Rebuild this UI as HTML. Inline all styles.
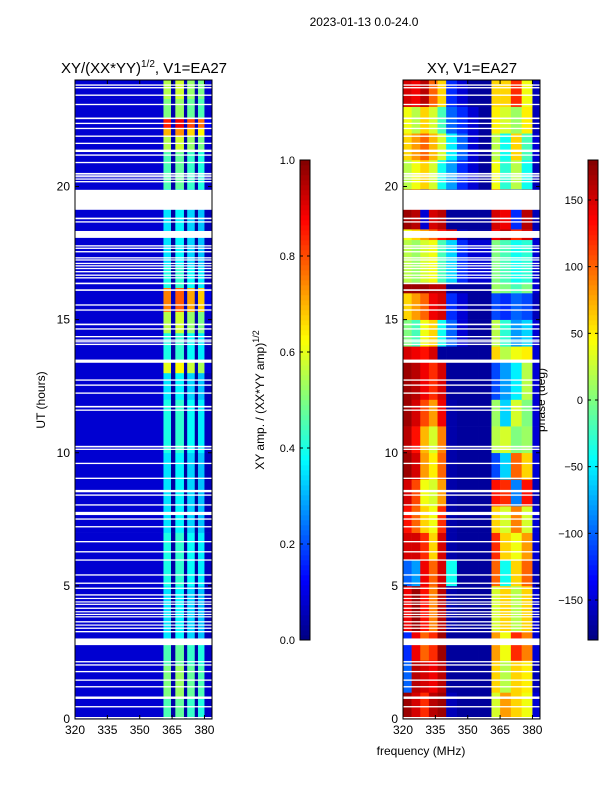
<!DOCTYPE html>
<html><head><meta charset="utf-8"><style>
body{margin:0;background:#fff;}
svg{display:block;font-family:"Liberation Sans","DejaVu Sans",sans-serif;}
</style></head><body>
<svg id="fig" width="600" height="800" viewBox="0 0 600 800">
<text x="364" y="26" font-size="12" text-anchor="middle">2023-01-13 0.0-24.0</text>
<text x="144" y="73" font-size="15" text-anchor="middle">XY/(XX*YY)<tspan font-size="10" dy="-6">1/2</tspan><tspan dy="6">, V1=EA27</tspan></text>
<text x="472" y="73" font-size="15" text-anchor="middle">XY, V1=EA27</text>
<text x="45" y="400" font-size="12" text-anchor="middle" transform="rotate(-90 45 400)">UT (hours)</text>
<text x="421" y="755" font-size="12" text-anchor="middle">frequency (MHz)</text>
<text x="264" y="400" font-size="12" text-anchor="middle" transform="rotate(-90 264 400)">XY amp. / (XX*YY amp)<tspan font-size="9" dy="-5">1/2</tspan></text>
<text x="545" y="400" font-size="12" text-anchor="middle" transform="rotate(-90 545 400)">phase (deg)</text>
<g id="left"></g>
<g id="right"></g>
<g id="axes"></g>
<g id="cbars"></g>
</svg>
<script>
// ---- data ----
const leftFreqEdges = [320,361,364.5,366.5,370.5,372,375.5,377,380,383.5];
const leftColScale = [0.08,1.0,0.15,1.05,0.15,0.95,0.15,0.9,0.25];
const leftBandStart = [0,0.8,2.0,3.0,5.0,7.0,8.0,10.0,12.0,13.0,13.4,14.5,15.3,16.2,17.0,19.9,21.3,21.9,22.2,22.6,23.3];
const leftBandLevel = [0.45,0.5,0.45,0.35,0.4,0.35,0.35,0.4,0.35,0.6,0.4,0.55,0.75,0.4,0.35,0.45,0.55,0.7,0.85,0.5,0.55];
const rightFreqEdges = [320,324,328,332,336,340,345,350,355,361,365,370,375,380,383.5];
const rightBandStart = [0,1,2.2,3.3,5,6,7,8,9,10,11,12,13.4,14,15,16,16.4,18,18.4,19.9,21,22,23];
const rightPhase = [
[170,150,120,160,170,-160,-170,-170,-170,30,80,60,40,-150],
[-100,160,150,140,160,-170,-170,-170,-170,60,20,60,50,-160],
[-120,140,100,120,170,-170,-170,-170,-170,80,40,120,90,-150],
[140,170,130,90,160,-165,-170,-170,-170,30,60,20,60,-150],
[-100,-80,140,100,150,-40,-170,-170,-170,100,-40,60,100,-160],
[150,150,120,60,150,-165,-170,-170,-170,120,60,40,80,-150],
[130,100,60,40,120,-165,-170,-170,-170,60,30,90,30,-150],
[150,110,40,30,80,-165,-170,-170,-170,130,120,-90,130,-160],
[170,150,80,50,100,-165,-170,-170,-170,-110,-60,100,60,-150],
[160,130,70,30,90,-165,-170,-170,-170,20,30,0,10,-150],
[170,150,110,80,140,-165,-170,-170,-170,10,-60,30,0,-150],
[170,160,140,120,150,-170,-170,-170,-170,-110,-80,-50,20,-150],
[150,140,130,150,-170,-170,-170,-170,-170,60,20,40,50,-150],
[0,-20,40,60,-40,-100,-150,-170,-170,20,-30,-80,-60,-150],
[60,80,100,140,150,-120,-150,-170,-170,-110,-120,-100,-110,-160],
[170,170,170,160,160,-170,-170,-170,-170,10,0,-20,0,-150],
[20,10,30,40,-20,-60,-120,-150,-150,0,-20,-40,-30,-150],
[40,60,80,100,130,150,-160,-170,-170,140,160,120,150,-160],
[170,160,-150,150,160,-170,-170,-170,-170,150,140,-120,160,-160],
[20,40,60,30,-40,-80,-120,-150,-170,40,-30,20,-40,-160],
[60,80,100,70,30,-50,-100,-150,-170,20,-40,60,-20,-150],
[40,20,60,30,-20,-100,-120,-150,-170,50,30,10,50,-160],
[150,140,160,100,60,-120,-150,-170,-170,60,60,120,40,-160]];
const gapCenter = [23.81,23.71,23.43,23.08,22.56,22.37,22.18,21.89,21.62,21.34,21.18,20.9,20.49,20.43,20.37,20.28,20.18,19.5,18.8,18.67,18.2,17.77,17.68,17.55,17.32,17.24,17.11,17.02,16.92,16.8,16.67,16.57,16.36,16.11,15.55,15.36,14.82,14.65,14.36,14.23,14.17,14.07,13.44,12.73,12.54,12.24,11.73,11.6,10.23,10.13,9.6,9.04,8.56,8.41,8.04,7.72,7.51,7.22,6.66,6.28,5.97,5.41,5.1,4.91,4.66,4.53,4.4,4.31,4.16,4.03,3.93,3.84,3.65,3.53,3.41,3.28,2.9,2.15,2.03,1.78,1.46,1.21,0.8,0.46,0.05];
const gapWidth = [0.05,0.05,0.05,0.05,0.06,0.05,0.05,0.05,0.05,0.09,0.05,0.05,0.04,0.04,0.04,0.05,0.05,0.75,0.06,0.05,0.26,0.05,0.05,0.05,0.05,0.05,0.05,0.05,0.05,0.05,0.05,0.05,0.06,0.06,0.05,0.05,0.06,0.05,0.05,0.05,0.04,0.05,0.12,0.05,0.05,0.05,0.06,0.05,0.06,0.05,0.05,0.05,0.09,0.05,0.05,0.12,0.05,0.05,0.05,0.05,0.05,0.05,0.05,0.05,0.05,0.04,0.04,0.04,0.05,0.04,0.04,0.04,0.05,0.04,0.05,0.05,0.25,0.05,0.05,0.05,0.05,0.05,0.09,0.05,0.05];
const xTicks = [320,335,350,365,380];
const yTicks = [0,5,10,15,20];
const ampTicks = [0.0,0.2,0.4,0.6,0.8,1.0];
const phaseTicks = [-150,-100,-50,0,50,100,150];
// ---- scales ----
const NS='http://www.w3.org/2000/svg';
const Y0=719, Y1=80, T=24.0;
const yS = h => Y0 - h*(Y0-Y1)/T;
const xL = f => 75 + (f-320)*(212-75)/63.5;
const xR = f => 403 + (f-320)*(540-403)/63.5;
function jet(v){v=Math.max(0,Math.min(1,v));
 const c=t=>Math.round(255*Math.max(0,Math.min(1,1.5-Math.abs(4*v-t))));
 return `rgb(${c(3)},${c(2)},${c(1)})`;}
function mk(tag,a,p){const e=document.createElementNS(NS,tag);for(const k in a)e.setAttribute(k,a[k]);p.appendChild(e);return e;}
const L=document.getElementById('left'),R=document.getElementById('right'),A=document.getElementById('axes'),C=document.getElementById('cbars');
// left heatmap
leftBandStart.forEach((s,i)=>{const e=i+1<leftBandStart.length?leftBandStart[i+1]:T;
 for(let j=0;j<leftColScale.length;j++){
  const v=j%2===0?leftColScale[j]*(j===0?1:leftBandLevel[i]*0.5+0.05):leftBandLevel[i]*leftColScale[j];
  const r=mk('rect',{x:xL(leftFreqEdges[j]),y:yS(e),width:xL(leftFreqEdges[j+1])-xL(leftFreqEdges[j])+0.3,height:yS(s)-yS(e)+0.3,fill:jet(v)},L);
  
  
 }});
// right heatmap
rightBandStart.forEach((s,i)=>{const e=i+1<rightBandStart.length?rightBandStart[i+1]:T;
 rightPhase[i].forEach((p,j)=>{
  const r=mk('rect',{x:xR(rightFreqEdges[j]),y:yS(e),width:xR(rightFreqEdges[j+1])-xR(rightFreqEdges[j])+0.3,height:yS(s)-yS(e)+0.3,fill:jet((p+180)/360)},R);
  
  
 });});
// gaps
gapCenter.forEach((c,i)=>{const w=gapWidth[i];
 [[75,212],[403,540]].forEach(([a,b])=>{
  const r=mk('rect',{x:a,y:yS(c+w/2),width:b-a,height:Math.max(1.2,yS(c-w/2)-yS(c+w/2)),fill:'#fff'},A);
  
  
 });});
// axes frames and ticks
[[75,212,xL,'left'],[403,540,xR,'right']].forEach(([a,b,sx,nm])=>{
 const f=mk('rect',{x:a,y:Y1,width:b-a,height:Y0-Y1,fill:'none',stroke:'#000','stroke-width':1},A);
 
 
 xTicks.forEach(t=>{const x=sx(t);
  mk('line',{x1:x,x2:x,y1:Y0,y2:Y0-4,stroke:'#000'},A);mk('line',{x1:x,x2:x,y1:Y1,y2:Y1+4,stroke:'#000'},A);
  const tx=mk('text',{x:x,y:Y0+15,'font-size':12,'text-anchor':'middle'},A);tx.textContent=t;
  
  });
 yTicks.forEach(t=>{const y=yS(t);
  mk('line',{x1:a,x2:a+4,y1:y,y2:y,stroke:'#000'},A);mk('line',{x1:b,x2:b-4,y1:y,y2:y,stroke:'#000'},A);
  const tx=mk('text',{x:a-5,y:y+4,'font-size':12,'text-anchor':'end'},A);tx.textContent=t;
  
  });
});
// colorbars
function cbar(x,name,ticks,norm,fmt){
 for(let i=0;i<96;i++){const v=i/96;
  mk('rect',{x:x,y:640-(i+1)*5,width:10,height:5.3,fill:jet(v+0.005)},C);}
 const f=mk('rect',{x:x,y:160,width:10,height:480,fill:'none',stroke:'#000','stroke-width':1},C);
 
 
 ticks.forEach(t=>{const y=640-norm(t)*480;
  mk('line',{x1:x,x2:x+3,y1:y,y2:y,stroke:'#000'},C);mk('line',{x1:x+10,x2:x+7,y1:y,y2:y,stroke:'#000'},C);
  const tx=mk('text',{x:x-5,y:y+4,'font-size':11,'text-anchor':'end'},C);tx.textContent=fmt(t);
  
  });
}
cbar(300,'amp-colorbar',ampTicks,t=>t,t=>t.toFixed(1));
cbar(588,'phase-colorbar',phaseTicks,t=>(t+180)/360,t=>t<0?'\u2212'+(-t):String(t));
</script>
</body></html>
